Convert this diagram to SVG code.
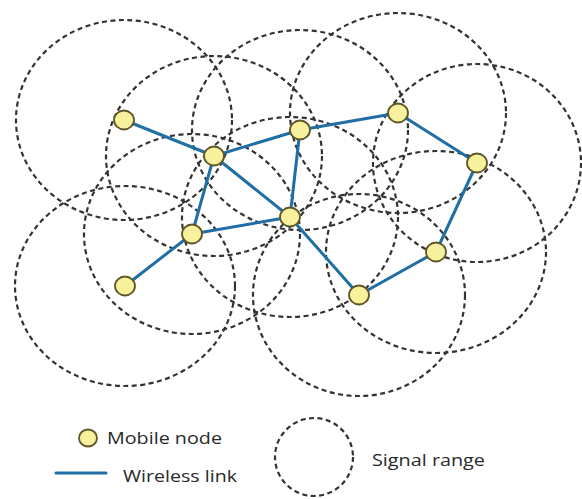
<svg xmlns="http://www.w3.org/2000/svg" width="582" height="499" viewBox="0 0 582 499">
  <style>
    .range { fill: none; stroke: #333333; stroke-width: 2.2; stroke-dasharray: 5 3.5; }
    .link { stroke: #1f6ea6; stroke-width: 3; stroke-linecap: round; }
    .node { fill: #f7f09c; stroke: #5e5628; stroke-width: 1.8; }
    .label { font-family: "Open Sans", "Liberation Sans", sans-serif; font-size: 17px; fill: #2a2a2a; }
  </style>
  <rect width="582" height="499" fill="#ffffff"/>

  <!-- signal ranges around each node -->
  <g id="ranges">
    <ellipse class="range" cx="124" cy="120" rx="108" ry="100"/>
    <ellipse class="range" cx="214" cy="156" rx="108" ry="100"/>
    <ellipse class="range" cx="300" cy="130" rx="108" ry="100"/>
    <ellipse class="range" cx="398" cy="113" rx="108" ry="100"/>
    <ellipse class="range" cx="477" cy="163" rx="104" ry="99"/>
    <ellipse class="range" cx="290" cy="217" rx="108" ry="100"/>
    <ellipse class="range" cx="192" cy="234" rx="108" ry="100"/>
    <ellipse class="range" cx="125" cy="286" rx="110" ry="100"/>
    <ellipse class="range" cx="436" cy="252" rx="110" ry="101"/>
    <ellipse class="range" cx="359" cy="295" rx="106" ry="101"/>
  </g>

  <!-- wireless links -->
  <g id="links">
    <line class="link" x1="124" y1="120" x2="214" y2="156"/>
    <line class="link" x1="214" y1="156" x2="300" y2="130"/>
    <line class="link" x1="300" y1="130" x2="398" y2="113"/>
    <line class="link" x1="398" y1="113" x2="477" y2="163"/>
    <line class="link" x1="477" y1="163" x2="436" y2="252"/>
    <line class="link" x1="436" y1="252" x2="359" y2="295"/>
    <line class="link" x1="359" y1="295" x2="290" y2="217"/>
    <line class="link" x1="290" y1="217" x2="214" y2="156"/>
    <line class="link" x1="300" y1="130" x2="290" y2="217"/>
    <line class="link" x1="214" y1="156" x2="192" y2="234"/>
    <line class="link" x1="192" y1="234" x2="290" y2="217"/>
    <line class="link" x1="192" y1="234" x2="125" y2="286"/>
  </g>

  <!-- mobile nodes -->
  <g id="n1"><ellipse class="node" cx="124" cy="120" rx="10" ry="9.5"/></g>
  <g id="n2"><ellipse class="node" cx="214" cy="156" rx="10" ry="9.5"/></g>
  <g id="n3"><ellipse class="node" cx="300" cy="130" rx="10" ry="9.5"/></g>
  <g id="n4"><ellipse class="node" cx="398" cy="113" rx="10" ry="9.5"/></g>
  <g id="n5"><ellipse class="node" cx="477" cy="163" rx="10" ry="9.5"/></g>
  <g id="n6"><ellipse class="node" cx="290" cy="217" rx="10" ry="9.5"/></g>
  <g id="n7"><ellipse class="node" cx="192" cy="234" rx="10" ry="9.5"/></g>
  <g id="n8"><ellipse class="node" cx="125" cy="286" rx="10" ry="9.5"/></g>
  <g id="n9"><ellipse class="node" cx="436" cy="252" rx="10" ry="9.5"/></g>
  <g id="n10"><ellipse class="node" cx="359" cy="295" rx="10" ry="9.5"/></g>

  <!-- legend -->
  <g id="legend">
    <ellipse class="node" cx="88" cy="438" rx="9" ry="8.5"/>
    <text class="label" x="107" y="444" textLength="115" lengthAdjust="spacingAndGlyphs">Mobile node</text>
    <line class="link" x1="56" y1="473" x2="106" y2="473"/>
    <text class="label" x="123" y="482" textLength="114" lengthAdjust="spacingAndGlyphs">Wireless link</text>
    <circle class="range" cx="314" cy="457" r="39"/>
    <text class="label" x="372" y="466" textLength="113" lengthAdjust="spacingAndGlyphs">Signal range</text>
  </g>
</svg>
